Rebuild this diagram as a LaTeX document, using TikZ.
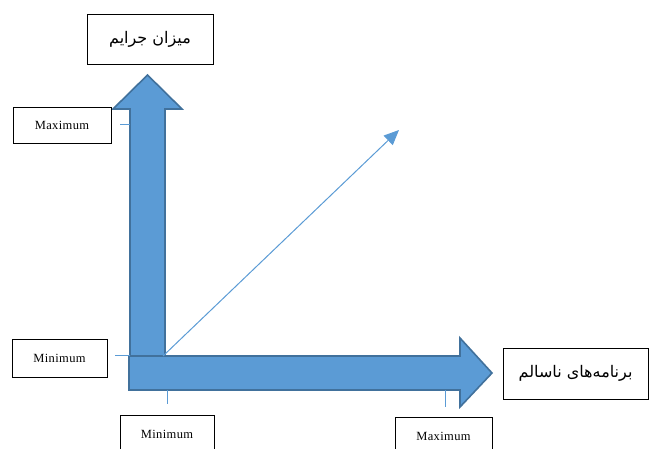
\documentclass[tikz,border=0pt]{standalone}
\usepackage{fontspec}
\setmainfont{Liberation Serif}[LetterSpace=3]
\newfontfamily\arabicfont[Script=Arabic]{DejaVu Sans}
\TeXXeTstate=1
\usetikzlibrary{arrows.meta}
\definecolor{fillblue}{HTML}{5B9BD5}
\definecolor{edgeblue}{HTML}{41719C}
\begin{document}
\begin{tikzpicture}[x=1pt,y=-1pt,
  labelbox/.style={draw=black,line width=0.9pt,fill=white,inner sep=0pt,
    font=\fontsize{12.5}{14}\selectfont},
  titlebox/.style={draw=black,line width=0.9pt,fill=white,inner sep=0pt,
    font=\arabicfont\fontsize{16}{18}\selectfont},
  bigarrow/.style={fill=fillblue,draw=edgeblue,line width=1.6pt,line join=miter},
  tick/.style={draw=fillblue,line width=1pt},
  diag/.style={draw=fillblue,line width=1pt,-{Triangle[length=15pt,width=13pt]}}]
\useasboundingbox (0,0) rectangle (649,448);
% big arrows
\path[bigarrow] (130,356) -- (130,109) -- (113,109) -- (147.5,75) -- (182,109) -- (165,109) -- (165,356) -- cycle;
\path[bigarrow] (129,356) -- (460,356) -- (460,338) -- (492,373) -- (460,407) -- (460,390) -- (129,390) -- cycle;
% nodes
\node[titlebox,minimum width=126pt,minimum height=50pt] (ytitle) at (150,39) {\beginR میزان جرایم\endR};
\node[titlebox,minimum width=145pt,minimum height=51pt] (xtitle) at (575.5,373.5) {\beginR برنامه‌های ناسالم\endR};
\node[labelbox,minimum width=98pt,minimum height=36pt] (ymax) at (62,125) {Maximum};
\node[labelbox,minimum width=95pt,minimum height=38pt] (ymin) at (59.5,358) {Minimum};
\node[labelbox,minimum width=94pt,minimum height=38pt] (xmin) at (167,434) {Minimum};
\node[labelbox,minimum width=97pt,minimum height=38pt] (xmax) at (443.5,436) {Maximum};
% ticks
\coordinate (t1a) at (120,124); \coordinate (t1b) at (130,124);
\coordinate (t2a) at (115,355); \coordinate (t2b) at (130,355);
\coordinate (t3a) at (167,390); \coordinate (t3b) at (167,404);
\coordinate (t4a) at (445,390); \coordinate (t4b) at (445,407);
\draw[tick] (t1a) -- (t1b);
\draw[tick] (t2a) -- (t2b);
\draw[tick] (t3a) -- (t3b);
\draw[tick] (t4a) -- (t4b);
% diagonal
\coordinate (origin) at (163,356);
\coordinate (dtip) at (399,130);
\draw[diag] (origin) -- (dtip);
\end{tikzpicture}
\end{document}
